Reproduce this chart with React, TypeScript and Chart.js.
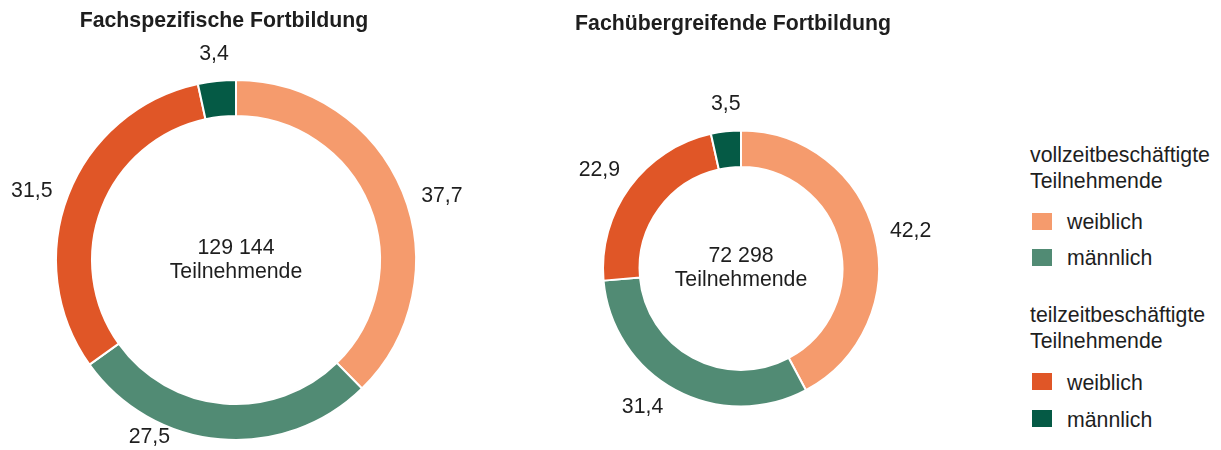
import React, { useEffect, useRef } from "react";
import { Chart, registerables } from "chart.js";

Chart.register(...registerables);

// ---- data ----
const categories = [
  "vollzeitbeschäftigte weiblich",
  "vollzeitbeschäftigte männlich",
  "teilzeitbeschäftigte weiblich",
  "teilzeitbeschäftigte männlich",
];
const fachspezifischValues = [37.7, 27.5, 31.5, 3.4];
const fachuebergreifendValues = [42.2, 31.4, 22.9, 3.5];
const chartTitles = ["Fachspezifische Fortbildung", "Fachübergreifende Fortbildung"];
const totals = ["129 144", "72 298"];
const centerCaption = "Teilnehmende";
const legendGroups = ["vollzeitbeschäftigte", "teilzeitbeschäftigte"];
const legendSub = "Teilnehmende";
const genders = ["weiblich", "männlich"];

// ---- style ----
const colors = ["#F59B6D", "#518B74", "#E05627", "#055A45"];
const FONT = '"Liberation Sans", Arial, Helvetica, sans-serif';
const TEXT = "#1e1e1e";
const FS = 21.3;
const TITLE_FS = 21.3;

const fmt = (v: number) => v.toFixed(1).replace(".", ",");

type DonutProps = {
  values: number[];
  title: string;
  total: string;
  left: number;
  width: number;
  padding: { left: number; right: number; top: number; bottom: number };
  cutout: string;
  titlePos: [number, number];
  angleShift: number[];
  radiusShift: number[];
};

function Donut(p: DonutProps) {
  const ref = useRef<HTMLCanvasElement | null>(null);
  useEffect(() => {
    if (!ref.current) return;
    const overlay = {
      id: "overlay",
      afterDraw(chart: any) {
        const ctx = chart.ctx as CanvasRenderingContext2D;
        const meta = chart.getDatasetMeta(0);
        ctx.save();
        ctx.fillStyle = TEXT;
        ctx.textAlign = "center";
        ctx.textBaseline = "alphabetic";
        ctx.font = `bold ${TITLE_FS}px ${FONT}`;
        ctx.fillText(p.title, p.titlePos[0], p.titlePos[1]);
        ctx.font = `${FS}px ${FONT}`;
        ctx.textBaseline = "middle";
        let cx = 0;
        let cy = 0;
        meta.data.forEach((arc: any, i: number) => {
          const { x, y, startAngle, endAngle, outerRadius } = arc.getProps(
            ["x", "y", "startAngle", "endAngle", "outerRadius"],
            true
          );
          cx = x;
          cy = y;
          const mid = (startAngle + endAngle) / 2 + ((p.angleShift[i] || 0) * Math.PI) / 180;
          const r = outerRadius + 26 + Math.abs(Math.cos(mid)) * 10 + (p.radiusShift[i] || 0);
          ctx.fillText(fmt(p.values[i]), x + Math.cos(mid) * r, y + Math.sin(mid) * r);
        });
        ctx.fillText(p.total, cx, cy - 12);
        ctx.fillText(centerCaption, cx, cy + 12);
        ctx.restore();
      },
    };
    const chart = new Chart(ref.current, {
      type: "doughnut",
      data: {
        labels: categories,
        datasets: [
          {
            data: p.values,
            backgroundColor: colors,
            borderColor: "#ffffff",
            borderWidth: 2,
            hoverOffset: 0,
          },
        ],
      },
      options: {
        responsive: false,
        animation: false,
        cutout: p.cutout,
        layout: { padding: p.padding },
        plugins: {
          legend: { display: false },
          tooltip: { enabled: false },
          title: { display: false },
        },
        events: [],
      },
      plugins: [overlay],
    } as any);
    return () => chart.destroy();
  }, []);
  return (
    <canvas
      ref={ref}
      width={p.width}
      height={450}
      style={{ position: "absolute", left: p.left, top: 0, width: p.width, height: 450 }}
    />
  );
}

function Legend() {
  const heads = [142, 302];
  const swatchTops = [[213, 249], [373, 410]];
  const textCenters = [[222, 258], [383, 420]];
  const txt: React.CSSProperties = {
    position: "absolute",
    fontFamily: FONT,
    fontSize: FS,
    color: TEXT,
    whiteSpace: "nowrap",
  };
  return (
    <>
      {legendGroups.map((g, gi) => (
        <React.Fragment key={g}>
          <div style={{ ...txt, left: 1030, top: heads[gi], lineHeight: "26px" }}>
            {g}
            <br />
            {legendSub}
          </div>
          {genders.map((s, si) => (
            <React.Fragment key={s}>
              <div
                style={{
                  position: "absolute",
                  left: 1032,
                  top: swatchTops[gi][si],
                  width: 20,
                  height: 17,
                  background: colors[gi * 2 + si],
                }}
              />
              <div style={{ ...txt, left: 1067, top: textCenters[gi][si] - 13, lineHeight: "26px" }}>{s}</div>
            </React.Fragment>
          ))}
        </React.Fragment>
      ))}
    </>
  );
}

export default function App() {
  return (
    <div
      style={{
        position: "fixed",
        left: 0,
        top: 0,
        width: 1221,
        height: 450,
        background: "#ffffff",
        overflow: "hidden",
      }}
    >
      <Donut
        values={fachspezifischValues}
        title={chartTitles[0]}
        total={totals[0]}
        left={0}
        width={480}
        padding={{ left: 55, right: 63, top: 79, bottom: 9 }}
        cutout="80%"
        titlePos={[224, 27]}
        angleShift={[5, 21, -2.5, 0]}
        radiusShift={[0, -13, 0, 0]}
      />
      <Donut
        values={fachuebergreifendValues}
        title={chartTitles[1]}
        total={totals[1]}
        left={480}
        width={490}
        padding={{ left: 122, right: 90, top: 129.5, bottom: 42.5 }}
        cutout="73.5%"
        titlePos={[253, 29.5]}
        angleShift={[1.5, 7, -1.5, 1]}
        radiusShift={[0, 0, 0, 0]}
      />
      <Legend />
    </div>
  );
}
